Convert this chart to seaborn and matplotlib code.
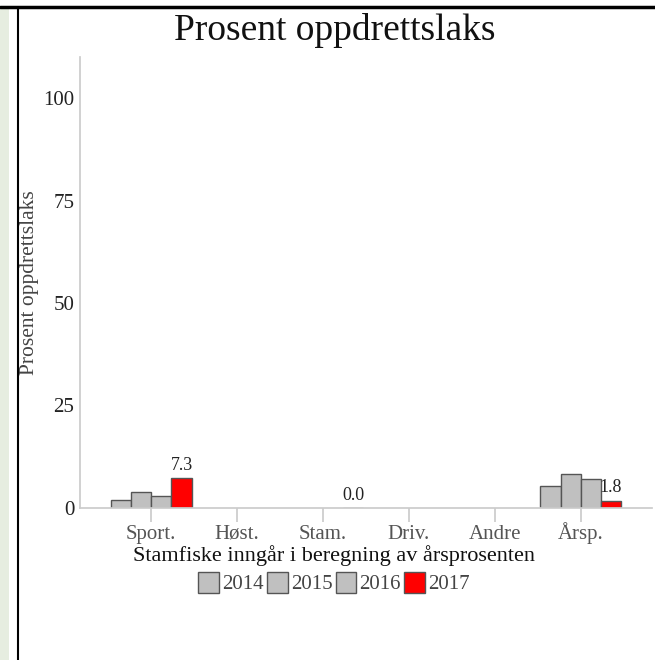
import matplotlib
matplotlib.use("Agg")
import matplotlib.pyplot as plt
from matplotlib.lines import Line2D
from matplotlib.patches import Rectangle
import seaborn as sns
import pandas as pd
import numpy as np

categories = ["Sport.", "Høst.", "Stam.", "Driv.", "Andre", "Årsp."]
years = ["2014", "2015", "2016", "2017"]
v2014 = [1.9, np.nan, np.nan, np.nan, np.nan, 5.4]
v2015 = [3.9, np.nan, np.nan, np.nan, np.nan, 8.2]
v2016 = [2.9, np.nan, np.nan, np.nan, np.nan, 7.1]
v2017 = [7.3, np.nan, 0.0, np.nan, np.nan, 1.8]
yticks = [0, 25, 50, 75, 100]

rows = []
for y, vals in zip(years, [v2014, v2015, v2016, v2017]):
    for c, v in zip(categories, vals):
        rows.append({"cat": c, "year": y, "val": v})
df = pd.DataFrame(rows)

sns.set_theme(style="white")
plt.rcParams["font.family"] = ["Liberation Serif", "DejaVu Serif"]

fig = plt.figure(figsize=(6.55, 6.6), dpi=100)
ax = fig.add_axes([80/655, 1-508/660, (652-80)/655, (508-57)/660])

palette = {"2014": "#c0c0c0", "2015": "#c0c0c0", "2016": "#c0c0c0", "2017": "#ff0000"}
sns.barplot(data=df, x="cat", y="val", hue="year", order=categories, hue_order=years,
            palette=palette, width=0.94, edgecolor="#555555", linewidth=1.0,
            saturation=1, errorbar=None, ax=ax, legend=True)

# labels on 2017 bars
cont = ax.containers[3]
for patch in cont:
    if patch is None:
        continue
    h = patch.get_height()
    if np.isnan(h):
        continue
    ax.annotate(f"{h:.1f}", (patch.get_x() + patch.get_width() / 2, h),
                xytext=(0, 3), textcoords="offset points", ha="center", va="bottom",
                fontsize=13, color="#222222")

ax.set_xlim(-0.83, 5.83)
ax.set_ylim(0, 110)
ax.set_yticks(yticks)
ax.tick_params(axis="y", direction="in", length=8, color="#bbbbbb", labelsize=15,
               labelcolor="#222222", pad=4)
ax.tick_params(axis="x", direction="out", length=10, color="#cccccc", labelsize=15,
               labelcolor="#555555", pad=12, bottom=True)
for lab in ax.get_xticklabels():
    lab.set_va("baseline")
for s in ["top", "right"]:
    ax.spines[s].set_visible(False)
ax.spines["left"].set_color("#cccccc")
ax.spines["bottom"].set_color("#cccccc")
ax.set_xlabel("Stamfiske inngår i beregning av årsprosenten", fontsize=16,
              color="#111111")
ax.xaxis.set_label_coords((334-80)/572, -(545-508)/451)
ax.set_ylabel("Prosent oppdrettslaks", fontsize=15.5, color="#444444")
ax.yaxis.set_label_coords(-(80-39)/572, 0.5)

leg = ax.legend(loc="upper center", bbox_to_anchor=(254/572, -0.118), ncol=4,
                frameon=False, fontsize=15, handlelength=1.0, handleheight=1.2,
                handletextpad=0.15, columnspacing=0.15, borderpad=0)
for t in leg.get_texts():
    t.set_color("#444444")

fig.text(335/655, 1-31/660, "Prosent oppdrettslaks", ha="center", va="center",
         fontsize=27, color="#111111")

# frame lines and faint left strip
fig.add_artist(Rectangle((0, 0), 9/655, 1-8/660, transform=fig.transFigure,
                         facecolor="#e6ede0", edgecolor="none"))
fig.add_artist(Line2D([0, 1], [1-7/660, 1-7/660], transform=fig.transFigure,
                      color="black", linewidth=2.5))
fig.add_artist(Line2D([18/655, 18/655], [0, 1-7/660], transform=fig.transFigure,
                      color="black", linewidth=1.5))

fig.savefig("out.png", dpi=100)
